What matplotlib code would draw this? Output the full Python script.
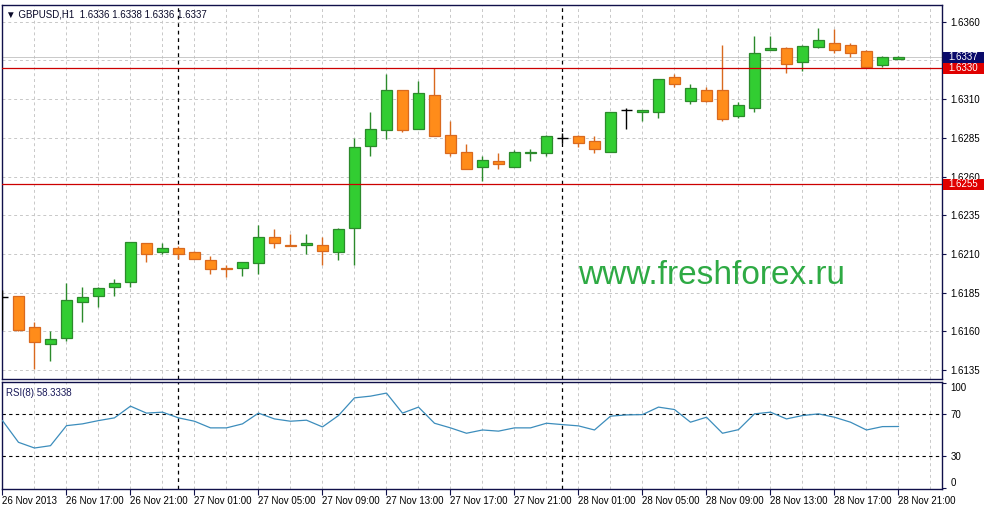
import matplotlib.pyplot as plt
import matplotlib.patches as ptchs
import matplotlib.transforms as mtransforms
import numpy as np

plt.rcParams["font.family"] = ["Liberation Sans", "DejaVu Sans"]
plt.rcParams["font.size"] = 7

# GBPUSD H1 candles, 26 Nov 13:00 .. 28 Nov 21:00
opens = [1.6182, 1.6183, 1.6163, 1.6152, 1.6156, 1.6179, 1.6183, 1.6189, 1.6192, 1.6217,
         1.6211, 1.6214, 1.6211, 1.6206, 1.6201, 1.6201, 1.6204, 1.6221, 1.6216, 1.6216,
         1.6216, 1.6211, 1.6227, 1.6280, 1.6290, 1.6316, 1.6291, 1.6313, 1.6287, 1.6276,
         1.6266, 1.6270, 1.6266, 1.6275, 1.6275, 1.6285, 1.6286, 1.6283, 1.6276, 1.6303,
         1.6302, 1.6302, 1.6324, 1.6309, 1.6316, 1.6316, 1.6299, 1.6304, 1.6342, 1.6343,
         1.6334, 1.6344, 1.6346, 1.6345, 1.6341, 1.6332, 1.6336]
highs = [1.6187, 1.6183, 1.6166, 1.6160, 1.6191, 1.6189, 1.6189, 1.6194, 1.6218, 1.6217,
         1.6217, 1.6215, 1.6212, 1.6209, 1.6203, 1.6205, 1.6229, 1.6226, 1.6223, 1.6223,
         1.6221, 1.6227, 1.6285, 1.6302, 1.6326, 1.6316, 1.6322, 1.6330, 1.6296, 1.6281,
         1.6273, 1.6275, 1.6277, 1.6278, 1.6287, 1.6288, 1.6287, 1.6286, 1.6302, 1.6304,
         1.6303, 1.6323, 1.6326, 1.6320, 1.6318, 1.6345, 1.6308, 1.6351, 1.6351, 1.6344,
         1.6345, 1.6356, 1.6355, 1.6346, 1.6342, 1.6338, 1.6338]
lows = [1.6161, 1.6160, 1.6136, 1.6141, 1.6154, 1.6166, 1.6176, 1.6183, 1.6189, 1.6205,
        1.6210, 1.6207, 1.6207, 1.6197, 1.6195, 1.6196, 1.6197, 1.6214, 1.6215, 1.6210,
        1.6203, 1.6206, 1.6203, 1.6273, 1.6284, 1.6289, 1.6291, 1.6286, 1.6273, 1.6265,
        1.6257, 1.6265, 1.6266, 1.6270, 1.6273, 1.6282, 1.6279, 1.6275, 1.6276, 1.6291,
        1.6296, 1.6298, 1.6318, 1.6307, 1.6308, 1.6296, 1.6298, 1.6302, 1.6342, 1.6327,
        1.6328, 1.6343, 1.6340, 1.6337, 1.6330, 1.6331, 1.6336]
closes = [1.6182, 1.6161, 1.6153, 1.6155, 1.6180, 1.6182, 1.6188, 1.6191, 1.6218, 1.6210,
          1.6214, 1.6210, 1.6207, 1.6200, 1.6200, 1.6205, 1.6221, 1.6217, 1.6215, 1.6217,
          1.6212, 1.6226, 1.6279, 1.6291, 1.6316, 1.6290, 1.6314, 1.6286, 1.6275, 1.6265,
          1.6271, 1.6268, 1.6276, 1.6276, 1.6286, 1.6285, 1.6282, 1.6278, 1.6302, 1.6303,
          1.6303, 1.6323, 1.6320, 1.6317, 1.6309, 1.6297, 1.6306, 1.6340, 1.6343, 1.6333,
          1.6344, 1.6348, 1.6342, 1.6340, 1.6331, 1.6337, 1.6337]
rsi = [63.9, 43.3, 37.9, 40.1, 59.1, 60.8, 63.9, 66.5, 77.6, 71.0,
       71.9, 66.5, 63.3, 57.0, 57.0, 60.8, 71.0, 65.5, 63.3, 64.3,
       57.9, 68.7, 85.5, 87.1, 90.0, 71.0, 76.7, 61.4, 57.0, 51.9,
       55.0, 53.9, 57.0, 57.0, 61.4, 60.1, 58.9, 55.0, 68.1, 69.3,
       69.6, 76.7, 74.4, 62.4, 67.1, 51.9, 55.3, 70.3, 71.9, 65.5,
       68.7, 70.3, 67.1, 62.4, 55.0, 58.2, 58.3]

time_labels = ["26 Nov 2013", "26 Nov 17:00", "26 Nov 21:00", "27 Nov 01:00", "27 Nov 05:00",
               "27 Nov 09:00", "27 Nov 13:00", "27 Nov 17:00", "27 Nov 21:00", "28 Nov 01:00",
               "28 Nov 05:00", "28 Nov 09:00", "28 Nov 13:00", "28 Nov 17:00", "28 Nov 21:00"]
price_ticks = [1.6135, 1.6160, 1.6185, 1.6210, 1.6235, 1.6260, 1.6285, 1.6310, 1.6335, 1.6360]
price_tick_labels = ["1.6135", "1.6160", "1.6185", "1.6210", "1.6235", "1.6260", "1.6285", "1.6310", "", "1.6360"]
rsi_ticks = [0, 30, 70, 100]
red_levels = [1.6330, 1.6255]
day_breaks = [11, 35]
last_price = 1.6337

BULL_FILL, BULL_EDGE = "#32cd32", "#2b8a2b"
BEAR_FILL, BEAR_EDGE = "#ff8c1a", "#d9691e"
FRAME = "#10104a"
GRID = "#c8c8c8"

W, H = 985, 509
fig = plt.figure(figsize=(W / 100, H / 100), dpi=100)
ax = fig.add_axes([2 / W, 1 - 378.5 / H, 940 / W, 373.5 / H])
ax_rsi = fig.add_axes([2 / W, 1 - 489 / H, 940 / W, 107.5 / H], sharex=ax)

xs = np.arange(len(opens))
o, h, l, c = map(np.array, (opens, highs, lows, closes))

for a in (ax, ax_rsi):
    for xv in range(0, 59, 2):
        a.axvline(xv, color=GRID, lw=0.7, ls=(0, (3, 3)), zorder=0)
    for xv in day_breaks:
        a.axvline(xv, color="black", lw=0.9, ls=(0, (3, 3)), zorder=1)
    for s in a.spines.values():
        s.set_color(FRAME)
        s.set_linewidth(1.0)

for yv in price_ticks:
    ax.axhline(yv, color=GRID, lw=0.7, ls=(0, (3, 3)), zorder=0)

# candles
for i in xs:
    if o[i] == c[i]:
        ax.vlines(i, l[i], h[i], color="black", lw=1.0, zorder=3)
        ax.hlines(o[i], i - 0.32, i + 0.32, color="black", lw=1.0, zorder=3)
        continue
    up = c[i] > o[i]
    edge = BULL_EDGE if up else BEAR_EDGE
    fill = BULL_FILL if up else BEAR_FILL
    ax.vlines(i, l[i], h[i], color=edge, lw=1.0, zorder=2)
    ax.bar(i, abs(c[i] - o[i]), bottom=min(o[i], c[i]), width=0.64,
           color=fill, edgecolor=edge, linewidth=0.9, zorder=3)

for lv in red_levels:
    ax.axhline(lv, color="#cc0000", lw=0.9, zorder=4)
ax.axhline(last_price, color="#c0c0c0", lw=0.6, zorder=1)

ax.set_xlim(-0.03, 58.72)
ax.set_ylim(1.61296, 1.63708)
ax.yaxis.tick_right()
ax.set_yticks(price_ticks, price_tick_labels)
ax.tick_params(axis="y", direction="out", length=3, width=0.8, color=FRAME, pad=3, labelsize=7)
ax.tick_params(axis="x", bottom=False, labelbottom=False)

# price label boxes on the right scale
trans = mtransforms.blended_transform_factory(ax.transAxes, ax.transData)
box_h = 0.00071
for lv, col in [(last_price, "#0a0a6a")] + [(lv, "#e00000") for lv in red_levels]:
    ax.add_patch(ptchs.Rectangle((1.001, lv - box_h / 2), 0.0435, box_h, transform=trans,
                                 facecolor=col, edgecolor="none", clip_on=False, zorder=9))
    ax.text(1.0225, lv, f"{lv:.4f}", transform=trans, color="white", va="center", ha="center",
            fontsize=7, zorder=10, clip_on=False)

ax.text(0.004, 0.988, "\u25bc GBPUSD,H1  1.6336 1.6338 1.6336 1.6337", transform=ax.transAxes,
        ha="left", va="top", fontsize=7, color="#0a0a2a")
ax.text(0.755, 0.277, "www.freshforex.ru", transform=ax.transAxes, ha="center", va="center",
        fontsize=24, color="#2eaa44")

# RSI panel
ax_rsi.plot(xs, rsi, color="#3c8dbc", lw=0.9, zorder=3)
for lv in (30, 70):
    ax_rsi.axhline(lv, color="black", lw=0.8, ls=(0, (3, 3)), zorder=2)
ax_rsi.set_ylim(-1, 101)
ax_rsi.yaxis.tick_right()
ax_rsi.set_yticks(rsi_ticks, ["0", "30", "70", "100"])
ax_rsi.tick_params(axis="y", direction="out", length=3, width=0.8, color=FRAME, pad=3, labelsize=7)
for lab in ax_rsi.get_yticklabels():
    if lab.get_text() == "100":
        lab.set_va("top")
    elif lab.get_text() == "0":
        lab.set_va("bottom")
ax_rsi.text(0.004, 0.94, "RSI(8) 58.3338", transform=ax_rsi.transAxes, ha="left", va="top",
            fontsize=7, color="#1a1a5a")

ax_rsi.set_xticks(np.arange(0, 57, 4), time_labels)
ax_rsi.tick_params(axis="x", direction="out", length=4, width=0.8, color=FRAME, pad=1, labelsize=7)
for lab in ax_rsi.get_xticklabels():
    lab.set_ha("left")

fig.savefig("out.png", dpi=100)
